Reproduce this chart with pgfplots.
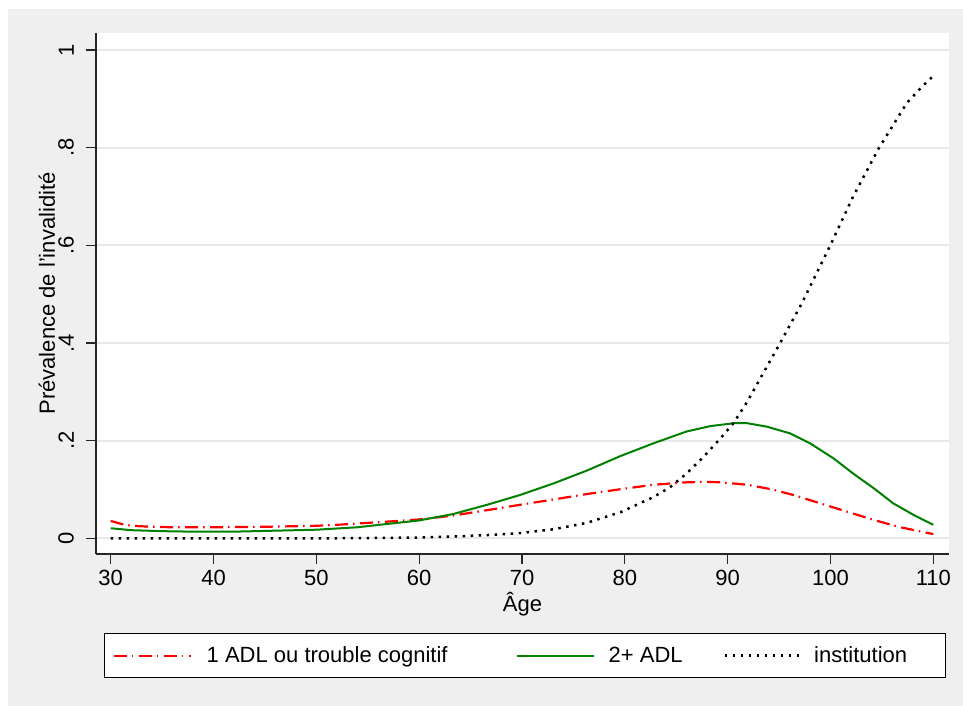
\documentclass[border=0pt]{standalone}
\usepackage{pgfplots}
\pgfplotsset{compat=1.18}
\usepackage{fontspec}
\setmainfont{Liberation Sans}
\definecolor{bggray}{RGB}{239,239,239}
\definecolor{gridgray}{RGB}{232,232,232}
\definecolor{sgreen}{RGB}{0,128,0}
\newcommand{\ff}{\fontsize{22pt}{26pt}\selectfont}
\newcommand{\legtext}[3]{\makebox[#1][l]{\rule[-1.5pt]{0pt}{17.5pt}\hspace*{#2}#3}}

\pgfplotstableread{
age val
30 0.036
31 0.030
32 0.026
34 0.024
36 0.023
40 0.023
45 0.024
50 0.026
52 0.028
55 0.032
58 0.036
60 0.039
63.3 0.047
66.6 0.058
69.8 0.069
73.1 0.080
76.3 0.091
79.6 0.101
82.8 0.110
86 0.115
88 0.116
89.3 0.115
91.9 0.110
94.2 0.101
96.4 0.089
99 0.072
101.6 0.055
104.2 0.038
106.8 0.023
110 0.009
}\tblred

\pgfplotstableread{
age val
30 0.021
32 0.017
35 0.015
38 0.014
42 0.014
46 0.016
50 0.018
54 0.023
57 0.030
60 0.037
63.3 0.050
66.6 0.069
69.8 0.089
73.1 0.113
76.3 0.139
79.6 0.169
82.8 0.195
86 0.219
88.3 0.230
90.6 0.236
91.9 0.236
93.8 0.229
96.1 0.215
98 0.195
100.3 0.164
102.2 0.133
104.2 0.103
106.1 0.072
108.1 0.048
110 0.028
}\tblgreen

\pgfplotstableread{
age val
30 0.000
40 0.000
50 0.000
55 0.001
60 0.002
63.3 0.004
66.6 0.007
69.8 0.011
73.1 0.019
76.3 0.032
79.6 0.054
82.8 0.085
84.4 0.105
86 0.133
87.6 0.166
89.3 0.205
90.6 0.237
91.9 0.280
95.1 0.400
97.2 0.481
100 0.601
102.2 0.700
104.7 0.799
106 0.843
107.4 0.891
108.9 0.925
110 0.947
}\tblblack

\begin{document}
\begin{tikzpicture}
\useasboundingbox (0pt,0pt) rectangle (963pt,706pt);
\fill[white] (0pt,0pt) rectangle (963pt,706pt);
\fill[bggray] (8pt,0pt) rectangle (963pt,697pt);
\begin{axis}[
  at={(96pt,152pt)}, anchor=south west,
  scale only axis, width=853pt, height=521pt,
  xmin=28.570, xmax=111.526, ymin=-0.03173, ymax=1.0348,
  axis background/.style={fill=white},
  axis x line*=bottom, axis y line*=left,
  axis line style={-, line width=1.3pt, black!85},
  xtick={30,40,50,60,70,80,90,100,110},
  xticklabels={30,40,50,60,70,80,90,100,110},
  ytick={0,0.2,0.4,0.6,0.8,1},
  yticklabels={0,.2,.4,.6,.8,1},
  tick align=outside, major tick length=10pt,
  tick style={line width=1.2pt, black!85},
  tick label style={font=\ff},
  xticklabel style={anchor=north, inner sep=0pt},
  yticklabel style={rotate=90, anchor=south, inner sep=0pt},
  xticklabel shift=6pt, yticklabel shift=12pt,
  ymajorgrids=true,
  major grid style={gridgray, line width=2pt},
  xlabel={Âge}, ylabel={Prévalence de l'invalidité},
  every axis x label/.style={at={(axis description cs:0.5,-0.1113)}, anchor=base, inner sep=0pt, font=\ff},
  every axis y label/.style={at={(axis description cs:-0.0481,0.5)}, rotate=90, anchor=base, inner sep=0pt, font=\ff},
  legend columns=3,
  legend style={at={(axis description cs:0.00938,-0.1516)}, anchor=north west,
    draw=black, line width=1pt, fill=white, inner xsep=8pt, inner ysep=13.5pt,
    font=\ff, nodes={inner sep=0pt}, cells={anchor=center}, column sep=0pt},
  legend image code/.code={\draw[#1] (0pt,0pt) -- (77pt,0pt);},
]
\addplot[red, line width=2.2pt, line join=round, dash pattern=on 13pt off 5pt on 1.5pt off 5.5pt] table[x=age,y=val] {\tblred};
\addlegendentry{\legtext{324pt}{15pt}{1 ADL ou trouble cognitif}}
\addplot[sgreen, line width=2pt, line join=round] table[x=age,y=val] {\tblgreen};
\addlegendentry{\legtext{129pt}{14pt}{2+ ADL}}
\addplot[black, line width=2.5pt, dash pattern=on 2.5pt off 5.5pt] table[x=age,y=val] {\tblblack};
\addlegendentry{\legtext{134pt}{11pt}{institution}}
\end{axis}
\end{tikzpicture}
\end{document}
